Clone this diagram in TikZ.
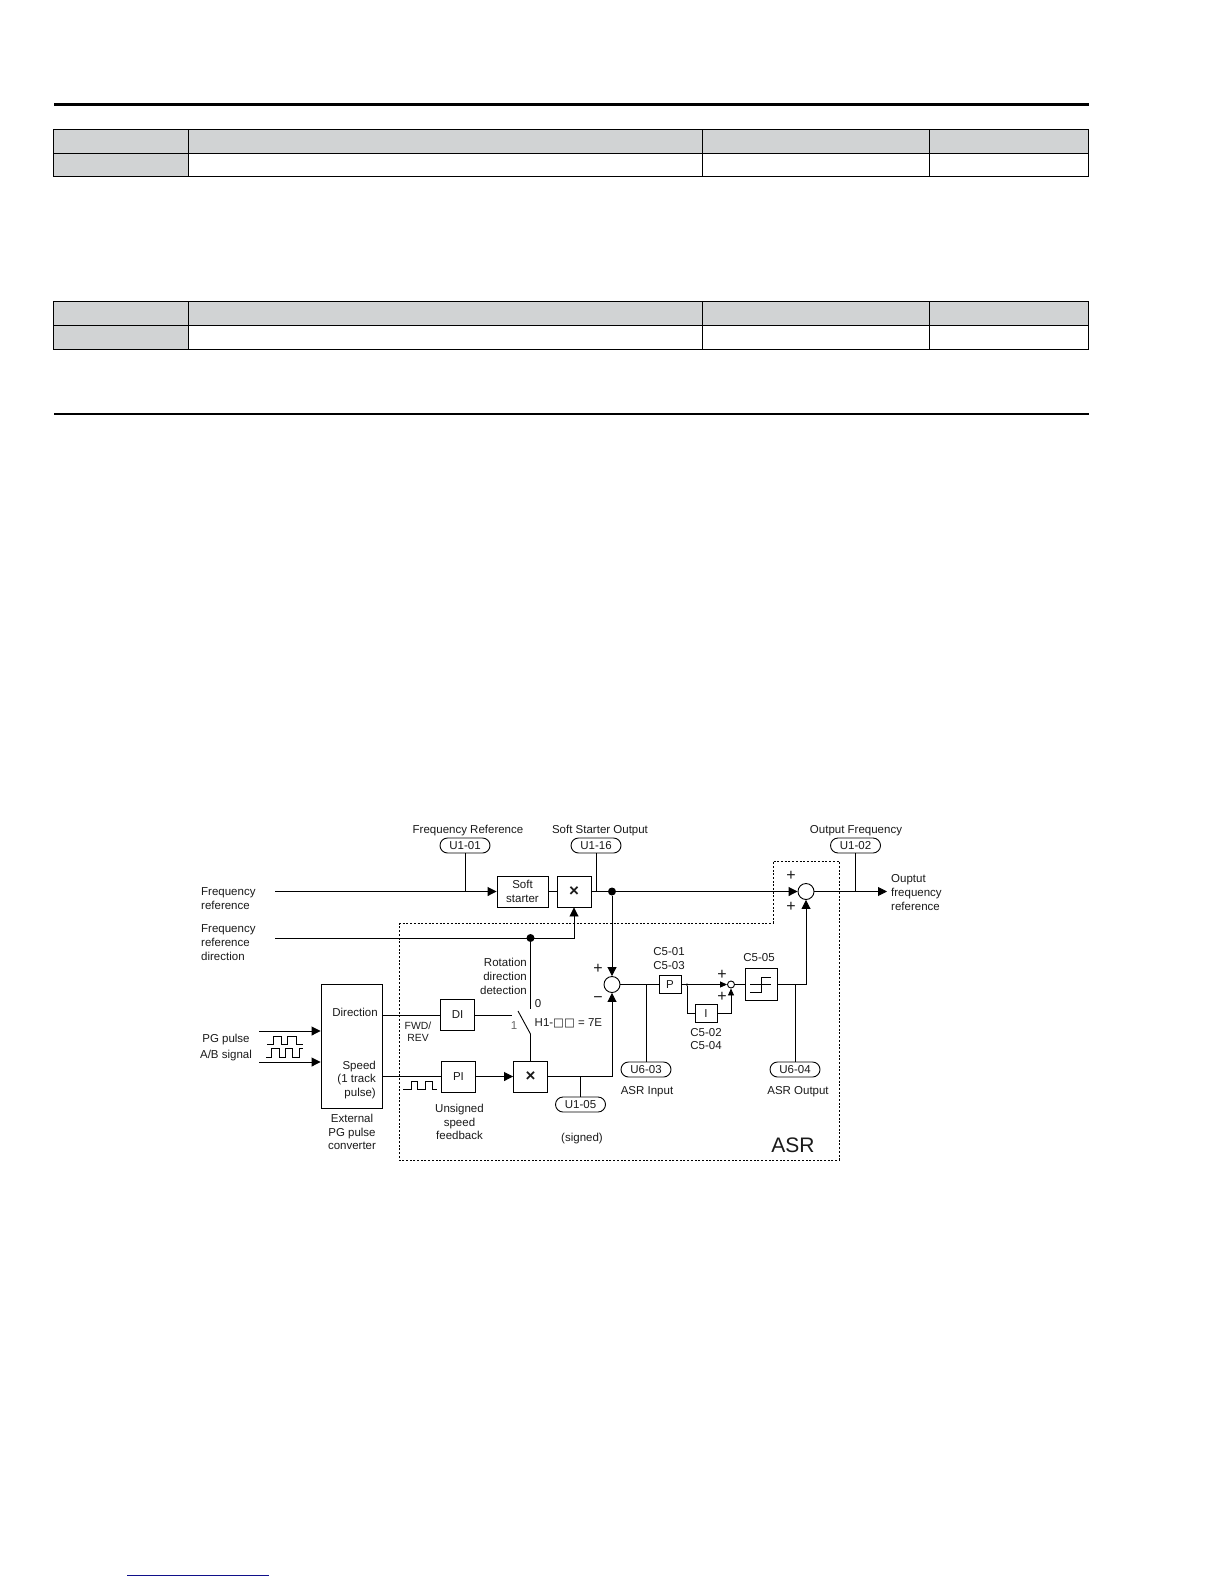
\documentclass[tikz,border=0pt]{standalone}
\usepackage{fontspec}
\setmainfont{Liberation Sans}
\newfontfamily\boxfont{DejaVu Sans}
\usetikzlibrary{arrows.meta,positioning,calc}
\definecolor{TableGrey}{HTML}{D1D3D4}
\definecolor{LinkBlue}{HTML}{10108A}
\definecolor{InkBlack}{HTML}{1A1A1A}
\tikzset{
    % Base block style
    basebox/.style={
        draw=black,
        fill=white,
        line width=0.9pt,
        inner sep=0pt,
        align=center,
        text=InkBlack,
        font=\fontsize{11.5}{13.7}\selectfont
    },
    % Small function block
    funcbox/.style={
        basebox,
        minimum width=34pt,
        minimum height=31pt
    },
    % Gain block
    gainbox/.style={
        basebox,
        minimum width=22pt,
        minimum height=18.5pt
    },
    % Monitor tag
    monitortag/.style={
        basebox,
        rounded corners=7.5pt,
        minimum width=50pt,
        minimum height=15pt
    },
    % Summing point
    sumnode/.style={
        draw=black,
        fill=white,
        line width=0.9pt,
        circle,
        inner sep=0pt,
        minimum size=16pt
    },
    % Small summing point
    smallsum/.style={
        sumnode,
        minimum size=7pt
    },
    % Junction dot
    junction/.style={
        circle,
        fill=black,
        inner sep=0pt,
        minimum size=8pt
    },
    % Plain text label
    textlabel/.style={
        inner sep=0pt,
        align=center,
        text=InkBlack,
        font=\fontsize{11.5}{13.7}\selectfont
    },
    % Plus and minus signs
    signlabel/.style={
        textlabel,
        font=\fontsize{16}{16}\selectfont
    },
    % Multiplier sign
    timessign/.style={
        font=\fontsize{17}{17}\selectfont\bfseries
    },
    % Plain signal line
    myline/.style={
        line width=0.9pt,
        draw=black
    },
    % Arrow styles
    myarrow/.style={
        myline,
        -{Triangle[length=9pt,width=9pt]}
    },
    tinyarrow/.style={
        myline,
        -{Triangle[length=7pt,width=6pt]}
    },
    % Pulse trace
    pulseline/.style={
        line width=0.75pt,
        draw=black
    },
    % Table and rule lines
    tablegrid/.style={
        draw=black,
        line width=1pt
    }
}
\begin{document}
\begin{tikzpicture}[x=1pt,y=-1pt]
    \useasboundingbox (0,0) rectangle (1224,1584);

    % Page rules
    \draw[black, line width=3pt] (54,104.5) -- (1089,104.5);
    \draw[black, line width=2.2pt] (54,414) -- (1089,414);
    \draw[LinkBlue, line width=1pt] (127,1575) -- (269,1575);

    % Upper table
    \fill[TableGrey] (53.5,129.5) rectangle (1088.5,153.5);
    \fill[TableGrey] (53.5,153.5) rectangle (188,176.5);
    \draw[tablegrid] (53.5,129.5) rectangle (1088.5,176.5);
    \draw[tablegrid] (53.5,153.5) -- (1088.5,153.5);
    \draw[tablegrid] (188,129.5) -- (188,176.5);
    \draw[tablegrid] (702,129.5) -- (702,176.5);
    \draw[tablegrid] (929,129.5) -- (929,176.5);

    % Lower table
    \fill[TableGrey] (53.5,301.5) rectangle (1088.5,325.5);
    \fill[TableGrey] (53.5,325.5) rectangle (188,349.5);
    \draw[tablegrid] (53.5,301.5) rectangle (1088.5,349.5);
    \draw[tablegrid] (53.5,325.5) -- (1088.5,325.5);
    \draw[tablegrid] (188,301.5) -- (188,349.5);
    \draw[tablegrid] (702,301.5) -- (702,349.5);
    \draw[tablegrid] (929,301.5) -- (929,349.5);

    % ASR boundary
    \draw[black, line width=0.8pt, dash pattern=on 2pt off 1.7pt] (399,923) -- (773,923) -- (773,861) -- (839,861) -- (839,1160) -- (399,1160) -- cycle;
    \node[textlabel, font=\fontsize{21}{21}\selectfont] (asrtitle) at (793,1145.5) {ASR};

    % Function blocks
    \node[funcbox, minimum width=51pt] (soft) at (522.5,891.5) {Soft\\[0.3pt]starter};
    \node[funcbox, timessign] (mulref) at (574,891.5) {×};
    \node[basebox, minimum width=61pt, minimum height=124pt] (pgconv) at (351.5,1046) {};
    \node[funcbox] (di) at (457.5,1015) {DI};
    \node[funcbox] (pi) at (458.5,1076.5) {PI};
    \node[funcbox, timessign] (mulfb) at (530.5,1076.5) {×};
    \node[gainbox] (pgain) at (670,984.5) {P};
    \node[gainbox] (igain) at (706,1013.5) {I};
    \node[basebox, minimum width=32pt, minimum height=32pt] (limiter) at (761,984.5) {};

    % Summing points and junctions
    \node[sumnode] (sumout) at (806,891.5) {};
    \node[sumnode] (sumasr) at (612,984.5) {};
    \node[smallsum] (sumpi) at (731,984.5) {};
    \node[junction] (dotsoft) at (612,891.5) {};
    \node[junction] (dotdir) at (530.5,938) {};
    \node[circle, fill=black, inner sep=0pt, minimum size=2.5pt] (dotp) at (687,984.5) {};

    % Monitor tags
    \node[monitortag] (uone01) at (465,845.5) {U1-01};
    \node[monitortag] (uone16) at (596,845.5) {U1-16};
    \node[monitortag] (uone02) at (855.5,845.5) {U1-02};
    \node[monitortag] (uone05) at (580.5,1104.5) {U1-05};
    \node[monitortag] (usix03) at (646,1069.5) {U6-03};
    \node[monitortag] (usix04) at (795,1069.5) {U6-04};

    % Free line ends
    \coordinate (frefin) at (275,891.5);
    \coordinate (dirin) at (275,938);
    \coordinate (pgina) at (259,1031);
    \coordinate (pginb) at (259,1062);
    \coordinate (freqout) at (887,891.5);
    \coordinate (swzero) at (530.5,1009);
    \coordinate (swone) at (512,1015);
    \coordinate (bladea) at (518,1011);
    \coordinate (bladeb) at (530.5,1034);

    % Top signal path
    \draw[myarrow] (frefin) -- (soft);
    \draw[myline] (soft) -- (mulref);
    \draw[myline] (mulref) -- (dotsoft);
    \draw[myarrow] (dotsoft) -- (sumout);
    \draw[myarrow] (sumout) -- (freqout);
    \draw[myarrow] (dirin) -| (mulref);
    \draw[myline] (uone01) -- (uone01 |- frefin);
    \draw[myline] (uone16) -- (uone16 |- frefin);
    \draw[myline] (uone02) -- (uone02 |- frefin);

    % PG pulse converter
    \draw[myarrow] (pgina) -- (pgina -| pgconv.west);
    \draw[myarrow] (pginb) -- (pginb -| pgconv.west);
    \draw[myline] (pgconv.east |- di) -- (di);
    \draw[myline] (pgconv.east |- pi) -- (pi);
    \draw[myarrow] (pi) -- (mulfb);

    % Direction switch
    \draw[myline] (di) -- (swone |- di);
    \draw[myline] (dotdir) -- (swzero);
    \draw[myline] (bladea) -- (bladeb);
    \draw[myline] (bladeb) -- (mulfb);

    % ASR loop
    \draw[myarrow] (dotsoft) -- (sumasr);
    \draw[myarrow] (mulfb) -| (sumasr);
    \draw[myline] (sumasr) -- (pgain);
    \draw[myline] (pgain) -- (dotp);
    \draw[tinyarrow] (dotp) -- (sumpi);
    \draw[myline] (dotp) |- (igain);
    \draw[tinyarrow] (igain) -| (sumpi);
    \draw[myline] (sumpi) -- (limiter);
    \draw[myarrow] (limiter) -| (sumout);
    \draw[myline] (uone05) -- (uone05 |- mulfb);
    \draw[myline] (usix03) -- (usix03 |- sumasr);
    \draw[myline] (usix04) -- (usix04 |- limiter);

    % Limiter symbol
    \draw[myline] (750,992) -- (761,992) -- (761,977) -- (771,977);
    \draw[myline] (750,984.5) -- (771,984.5);

    % Pulse trains
    \draw[pulseline] (267,1044) -- (273,1044) -- (273,1036) -- (281,1036) -- (281,1044) -- (287,1044) -- (287,1036) -- (296,1036) -- (296,1044) -- (303,1044);
    \draw[pulseline] (266,1057) -- (271,1057) -- (271,1048) -- (279,1048) -- (279,1057) -- (285,1057) -- (285,1048) -- (292,1048) -- (292,1057) -- (299,1057) -- (299,1048) -- (303,1048);
    \draw[pulseline] (403,1089) -- (411,1089) -- (411,1081) -- (417,1081) -- (417,1089) -- (425,1089) -- (425,1081) -- (432,1081) -- (432,1089) -- (437,1089);

    % Labels at the top
    \node[textlabel] (lblfref) at (468,830.5) {Frequency Reference};
    \node[textlabel] (lblsoft) at (600,830.5) {Soft Starter Output};
    \node[textlabel] (lblout) at (856,830.5) {Output Frequency};

    % Input and output labels
    \node[textlabel, align=left, anchor=west] (lblfrefin) at (201,898.5) {Frequency\\reference};
    \node[textlabel, align=left, anchor=west] (lbldirin) at (201,942.5) {Frequency\\reference\\direction};
    \node[textlabel, align=left, anchor=west] (lblfreqout) at (891,892.5) {Ouptut\\frequency\\reference};
    \node[textlabel] (lblpg) at (226,1048) {PG pulse\\[2.3pt]A/B~signal};

    % Labels round the converter
    \node[textlabel] (lbldirection) at (355,1012.5) {Direction};
    \node[textlabel, align=right, anchor=east] (lblspeed) at (376,1080) {Speed\\(1 track\\pulse)};
    \node[textlabel] (lblconv) at (352,1132) {External\\PG pulse\\converter};
    \node[textlabel, font=\fontsize{10.4}{12.4}\selectfont] (lblfwd) at (418,1032) {FWD/\\REV};
    \node[textlabel] (lblunsigned) at (459.5,1122) {Unsigned\\speed\\feedback};

    % Switch labels
    \node[textlabel, align=right, anchor=east] (lblrot) at (527,976.5) {Rotation\\direction\\detection};
    \node[textlabel] (lblzero) at (538,1004) {0};
    \node[textlabel, text=black!60] (lblone) at (514,1025.5) {1};
    \node[textlabel, anchor=west] (lblhone) at (534.5,1023) {H1-{\boxfont □□} = 7E};
    \node[textlabel] (lblsigned) at (582,1138.5) {(signed)};

    % Parameter labels
    \node[textlabel] (lblcp) at (669,958.5) {C5-01\\C5-03};
    \node[textlabel] (lblci) at (706,1039) {C5-02\\C5-04};
    \node[textlabel] (lblclim) at (759,957.5) {C5-05};
    \node[textlabel] (lblasrin) at (647,1091.5) {ASR Input};
    \node[textlabel] (lblasrout) at (798,1091.5) {ASR Output};

    % Signs
    \node[signlabel] (plusa) at (791,875.5) {+};
    \node[signlabel] (plusb) at (791,906.5) {+};
    \node[signlabel] (plusc) at (598,968.5) {+};
    \node[signlabel] (minusa) at (598,999.5) {\textminus};
    \node[signlabel] (plusd) at (722,974.5) {+};
    \node[signlabel] (pluse) at (722,996.5) {+};
\end{tikzpicture}
\end{document}
